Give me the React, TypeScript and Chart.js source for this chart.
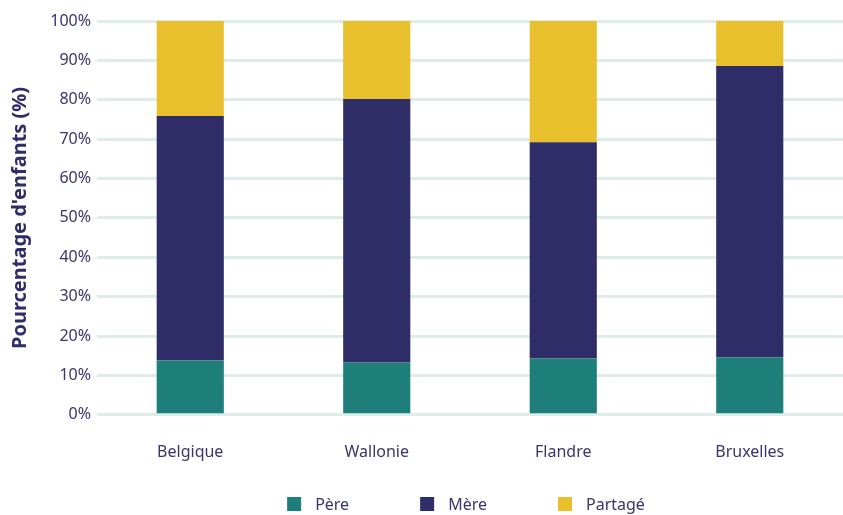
import React, { useEffect, useRef } from "react";
import { Chart, registerables } from "chart.js";

Chart.register(...registerables);

const categories = ["Belgique", "Wallonie", "Flandre", "Bruxelles"];
const seriesNames = ["Père", "Mère", "Partagé"];
const pere = [13.8, 13.3, 14.3, 14.6];
const mere = [62.1, 66.9, 54.9, 74.0];
const partage = [24.1, 19.8, 30.8, 11.4];
const yTicks = [0, 10, 20, 30, 40, 50, 60, 70, 80, 90, 100];

const colors = ["#1e7f7a", "#2f2d67", "#e8bf2c"];
const textColor = "#37356e";
const FONT = "'Noto Sans', sans-serif";

const legendPlugin = {
  id: "customLegend",
  afterDraw(chart: any) {
    const ctx = chart.ctx;
    const area = chart.chartArea;
    const box = 14;
    const textGap = 14;
    const itemGap = 71;
    ctx.save();
    ctx.font = `16px ${FONT}`;
    const items = chart.data.datasets.map((d: any) => ({
      label: d.label,
      color: d.backgroundColor,
      w: box + textGap + ctx.measureText(d.label).width,
    }));
    const total = items.reduce((s: number, it: any) => s + it.w, 0) + itemGap * (items.length - 1);
    let x = (area.left + area.right) / 2 - total / 2 - 4;
    const y = 504;
    for (const it of items) {
      ctx.fillStyle = it.color;
      ctx.fillRect(x, y - box / 2, box, box);
      ctx.fillStyle = textColor;
      ctx.textBaseline = "middle";
      ctx.textAlign = "left";
      ctx.fillText(it.label, x + box + textGap, y + 1);
      x += it.w + itemGap;
    }
    ctx.restore();
  },
};

export default function App() {
  const ref = useRef<HTMLCanvasElement>(null);
  useEffect(() => {
    document.body.style.margin = "0";
    const chart = new Chart(ref.current!, {
      type: "bar",
      data: {
        labels: categories,
        datasets: [pere, mere, partage].map((vals, i) => ({
          label: seriesNames[i],
          data: vals,
          backgroundColor: colors[i],
          borderWidth: 0,
          categoryPercentage: 1,
          barPercentage: 0.36,
        })),
      },
      options: {
        animation: false,
        responsive: false,
        layout: { padding: { top: 21, bottom: 25, left: 0, right: 0 } },
        plugins: { legend: { display: false }, tooltip: { enabled: false } },
        scales: {
          x: {
            stacked: true,
            grid: { display: false, drawTicks: false },
            border: { display: false },
            ticks: { color: textColor, font: { family: FONT, size: 16 }, padding: 28 },
          },
          y: {
            stacked: true,
            min: 0,
            max: 100,
            afterBuildTicks: (scale: any) => {
              scale.ticks = yTicks.map((v) => ({ value: v }));
            },
            afterFit: (scale: any) => {
              scale.width = 97;
            },
            grid: { color: "#dfede8", lineWidth: 3, drawTicks: false },
            border: { display: false },
            ticks: {
              color: textColor,
              font: { family: FONT, size: 16 },
              padding: 6,
              callback: (v: any) => v + "%",
            },
            title: {
              display: true,
              text: "Pourcentage d'enfants (%)",
              color: "#2f2d67",
              font: { family: FONT, size: 20, weight: "bold" },
              padding: { top: 8, bottom: 0 },
            },
          },
        },
      },
      plugins: [legendPlugin],
    });
    return () => chart.destroy();
  }, []);
  return <canvas ref={ref} width={843} height={515} style={{ display: "block" }} />;
}
